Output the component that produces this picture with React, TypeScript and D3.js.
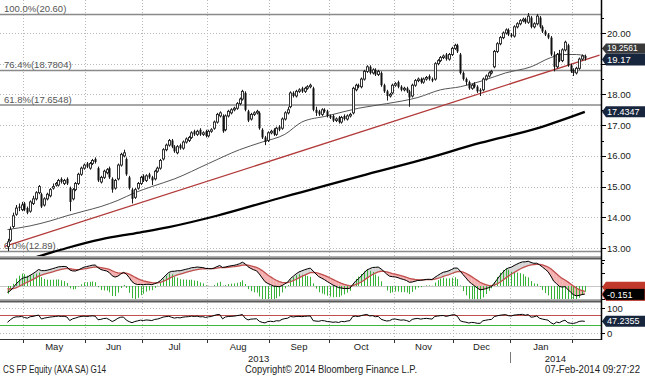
import React from "react";
import * as d3 from "d3";

// ---------- data ----------
const START_DATE = "2013-04-23";
const END_DATE = "2014-02-07";
const HOLIDAYS = ["2013-05-01", "2013-12-25", "2013-12-26", "2014-01-01"];

const OPEN = [
  13.05, 13.25, 13.7, 14.1, 14.35, 14.25, 14.45, 14.3, 14.2, 14.45,
  14.6, 14.8, 14.75, 14.4, 14.6, 14.7, 14.95, 15.05, 15.05, 15.25,
  15.1, 15.25, 14.95, 14.6, 14.9, 15.1, 15.4, 15.6, 15.75, 15.6,
  15.75, 15.9, 15.6, 15.15, 15.3, 15.45, 15.6, 15.25, 14.95, 15.25,
  15.7, 16.0, 15.9, 15.3, 14.9, 14.65, 14.95, 15.1, 15.35, 15.2,
  15.4, 15.3, 15.25, 15.5, 15.6, 15.9, 16.2, 16.35, 16.5, 16.3,
  16.1, 16.35, 16.25, 16.45, 16.5, 16.6, 16.8, 16.7, 16.85, 16.7,
  16.8, 16.65, 16.8, 16.9, 17.1, 17.3, 17.3, 16.85, 17.3, 17.4,
  17.5, 17.55, 17.7, 17.85, 18.05, 17.45, 17.2, 17.35, 17.4, 17.4,
  16.85, 16.6, 16.5, 16.75, 16.85, 16.7, 16.95, 16.9, 17.2, 17.4,
  17.6, 18.05, 17.95, 18.1, 18.2, 18.1, 18.2, 18.25, 18.2, 17.5,
  17.45, 17.35, 17.5, 17.45, 17.3, 17.3, 17.15, 17.25, 17.1, 17.3,
  17.2, 17.3, 17.4, 18.15, 18.3, 18.25, 18.5, 18.75, 18.9, 18.7,
  18.8, 18.65, 18.7, 18.3, 18.1, 17.95, 18.05, 18.3, 18.4, 18.25,
  18.15, 18.2, 18.1, 17.95, 18.3, 18.45, 18.5, 18.4, 18.5, 18.6,
  18.5, 18.5, 19.0, 19.1, 19.2, 19.3, 19.15, 19.3, 19.5, 19.6,
  19.3, 18.7, 18.5, 18.4, 18.2, 18.35, 18.25, 18.15, 18.15, 18.5,
  18.6, 18.7, 18.9, 19.4, 19.65, 19.85, 20.0, 20.1, 19.95, 19.9,
  20.2, 20.3, 20.4, 20.45, 20.35, 20.5, 20.2, 20.3, 20.5, 20.2,
  20.05, 19.95, 19.85, 19.3, 18.9, 19.35, 19.1, 19.45, 19.6, 18.95,
  18.8, 18.7, 18.85, 19.15, 19.25,
];
const HIGH = [
  13.3, 13.7, 14.15, 14.4, 14.45, 14.5, 14.5, 14.35, 14.55, 14.7,
  14.85, 15.05, 14.8, 14.65, 14.8, 14.95, 15.1, 15.15, 15.25, 15.3,
  15.25, 15.3, 15.0, 14.95, 15.15, 15.45, 15.65, 15.75, 15.8, 15.8,
  15.9, 15.95, 15.65, 15.35, 15.55, 15.6, 15.65, 15.3, 15.25, 15.75,
  16.1, 16.2, 15.95, 15.35, 14.95, 14.95, 15.15, 15.35, 15.4, 15.4,
  15.45, 15.35, 15.55, 15.65, 15.9, 16.25, 16.4, 16.55, 16.55, 16.35,
  16.35, 16.4, 16.5, 16.6, 16.65, 16.8, 16.85, 16.85, 16.9, 16.8,
  16.85, 16.85, 16.9, 17.15, 17.4, 17.45, 17.35, 17.35, 17.5, 17.55,
  17.6, 17.75, 17.9, 18.15, 18.1, 17.5, 17.4, 17.45, 17.5, 17.45,
  16.9, 16.65, 16.8, 16.85, 16.9, 16.95, 17.0, 17.25, 17.45, 17.6,
  18.1, 18.1, 18.15, 18.2, 18.25, 18.25, 18.3, 18.35, 18.25, 17.6,
  17.5, 17.55, 17.55, 17.5, 17.35, 17.35, 17.25, 17.3, 17.3, 17.35,
  17.35, 17.4, 18.25, 18.35, 18.35, 18.55, 18.8, 18.95, 18.95, 18.85,
  18.85, 18.8, 18.75, 18.35, 18.15, 18.05, 18.35, 18.4, 18.45, 18.3,
  18.25, 18.25, 18.15, 18.35, 18.5, 18.55, 18.55, 18.55, 18.6, 18.65,
  18.55, 19.05, 19.15, 19.25, 19.3, 19.35, 19.35, 19.55, 19.65, 19.65,
  19.35, 18.75, 18.55, 18.45, 18.35, 18.4, 18.3, 18.2, 18.55, 18.65,
  18.75, 18.8, 19.45, 19.7, 19.9, 20.05, 20.15, 20.15, 20.0, 20.25,
  20.35, 20.45, 20.5, 20.5, 20.65, 20.55, 20.35, 20.62, 20.55, 20.25,
  20.1, 20.0, 19.9, 19.4, 19.35, 19.45, 19.5, 19.75, 19.65, 19.0,
  18.85, 18.9, 19.2, 19.3, 19.3,
];
const LOW = [
  12.9, 13.2, 13.65, 14.05, 14.2, 14.2, 14.2, 14.1, 14.15, 14.4,
  14.55, 14.75, 14.3, 14.35, 14.55, 14.65, 14.9, 15.0, 15.0, 15.1,
  15.05, 15.05, 14.2, 14.55, 14.85, 15.05, 15.35, 15.55, 15.6, 15.55,
  15.7, 15.75, 15.15, 15.1, 15.25, 15.4, 15.25, 14.8, 14.9, 15.2,
  15.65, 15.95, 15.35, 14.9, 14.45, 14.6, 14.9, 15.05, 15.15, 15.15,
  15.25, 15.05, 15.2, 15.45, 15.55, 15.85, 16.15, 16.3, 16.25, 16.1,
  16.05, 16.2, 16.2, 16.4, 16.45, 16.55, 16.65, 16.65, 16.65, 16.65,
  16.6, 16.6, 16.75, 16.85, 17.05, 17.25, 16.75, 16.8, 17.25, 17.35,
  17.45, 17.5, 17.65, 17.8, 17.45, 17.1, 17.15, 17.3, 17.35, 16.85,
  16.55, 16.35, 16.45, 16.7, 16.65, 16.65, 16.8, 16.85, 17.15, 17.35,
  17.55, 17.9, 17.9, 18.05, 18.05, 18.05, 18.15, 18.2, 17.45, 17.3,
  17.3, 17.3, 17.4, 17.25, 17.2, 17.1, 17.1, 17.05, 17.05, 17.15,
  17.15, 17.25, 17.35, 18.1, 18.2, 18.2, 18.45, 18.7, 18.65, 18.65,
  18.6, 18.6, 18.25, 18.05, 17.8, 17.9, 18.0, 18.25, 18.2, 18.1,
  18.1, 18.05, 17.6, 17.9, 18.25, 18.4, 18.35, 18.35, 18.45, 18.45,
  18.4, 18.45, 18.95, 19.05, 19.15, 19.1, 19.1, 19.25, 19.45, 19.35,
  18.65, 18.45, 18.3, 18.15, 18.15, 18.2, 18.05, 17.95, 18.1, 18.45,
  18.55, 18.65, 18.85, 19.35, 19.6, 19.8, 19.95, 19.9, 19.85, 19.85,
  20.15, 20.25, 20.35, 20.3, 20.3, 20.15, 20.15, 20.25, 20.15, 20.0,
  19.9, 19.8, 19.25, 18.75, 18.85, 19.05, 19.05, 19.4, 18.9, 18.7,
  18.6, 18.65, 18.8, 19.1, 19.1,
];
const CLOSE = [
  13.2, 13.6, 14.05, 14.3, 14.3, 14.4, 14.25, 14.15, 14.5, 14.6,
  14.8, 15.0, 14.35, 14.6, 14.75, 14.9, 15.0, 15.1, 15.2, 15.15,
  15.2, 15.1, 14.5, 14.9, 15.1, 15.4, 15.6, 15.7, 15.65, 15.75,
  15.85, 15.8, 15.2, 15.3, 15.5, 15.55, 15.3, 14.9, 15.2, 15.7,
  16.05, 16.1, 15.4, 14.95, 14.6, 14.9, 15.1, 15.3, 15.2, 15.35,
  15.3, 15.2, 15.5, 15.6, 15.85, 16.2, 16.35, 16.5, 16.3, 16.15,
  16.3, 16.25, 16.45, 16.55, 16.6, 16.75, 16.7, 16.8, 16.7, 16.75,
  16.65, 16.8, 16.85, 17.1, 17.35, 17.4, 16.8, 17.3, 17.45, 17.5,
  17.55, 17.7, 17.85, 18.1, 17.5, 17.15, 17.35, 17.4, 17.45, 16.9,
  16.6, 16.45, 16.75, 16.8, 16.7, 16.9, 16.85, 17.2, 17.4, 17.5,
  18.05, 17.95, 18.1, 18.15, 18.1, 18.2, 18.25, 18.3, 17.5, 17.4,
  17.35, 17.5, 17.45, 17.3, 17.25, 17.15, 17.2, 17.1, 17.25, 17.2,
  17.3, 17.35, 18.2, 18.3, 18.25, 18.5, 18.75, 18.9, 18.7, 18.8,
  18.65, 18.75, 18.3, 18.1, 17.95, 18.0, 18.3, 18.35, 18.25, 18.15,
  18.2, 18.1, 17.9, 18.3, 18.45, 18.5, 18.4, 18.5, 18.55, 18.5,
  18.45, 19.0, 19.1, 19.2, 19.25, 19.15, 19.3, 19.5, 19.6, 19.4,
  18.7, 18.5, 18.4, 18.2, 18.3, 18.25, 18.1, 18.1, 18.5, 18.6,
  18.7, 18.75, 19.4, 19.65, 19.85, 20.0, 20.1, 19.95, 19.9, 20.2,
  20.3, 20.4, 20.45, 20.35, 20.55, 20.2, 20.3, 20.55, 20.2, 20.05,
  19.95, 19.85, 19.3, 18.9, 19.3, 19.1, 19.45, 19.7, 18.95, 18.75,
  18.7, 18.85, 19.15, 19.25, 19.17,
];

// moving averages: [trading-day index, value]
const MA50 = [
  [0, 13.6], [8, 13.72], [15, 13.88], [21, 14.05], [27, 14.2], [33, 14.35],
  [39, 14.55], [45, 14.8], [51, 15.0], [59, 15.25], [71, 15.75], [82, 16.2],
  [90, 16.45], [98, 16.7], [104, 17.1], [113, 17.3], [124, 17.55], [134, 17.7],
  [145, 17.9], [153, 18.15], [160, 18.25], [168, 18.45], [176, 18.7], [185, 18.9],
  [192, 19.2], [196, 19.3], [201, 19.3], [204, 19.26],
];
const MA200 = [
  [0, 12.45], [10, 12.7], [21, 13.0], [33, 13.28], [45, 13.48], [57, 13.68],
  [74, 14.05], [96, 14.62], [104, 14.82], [125, 15.35], [146, 15.86],
  [167, 16.42], [188, 16.92], [204, 17.43],
];
const TREND = [[-1, 13.05], [209.2, 19.28]];

const FIB_LEVELS = [20.6, 18.7804, 17.6548, 12.89];
const FIB_LABELS = ["100.0%(20.60)", "76.4%(18.7804)", "61.8%(17.6548)", "0.0%(12.89)"];

const PRICE_TICKS = [13, 14, 15, 16, 17, 18, 19, 20];
const PRICE_MINOR = [12.5, 13.5, 14.5, 15.5, 16.5, 17.5, 18.5, 19.5, 20.5];
const MACD_TICKS = [-0.25, 0, 0.25, 0.5];
const RSI_TICKS = [0, 50, 100];
const RSI_LABELS = [0, 100];
const RSI_OVERBOUGHT = 70;
const RSI_OVERSOLD = 30;

// indicator seeds (state before first visible day)
const SEED_EMA12 = 13.35;
const SEED_EMA26 = 13.47;
const SEED_SIGNAL = -0.03;
const SEED_PREV_CLOSE = 13.1;
const SEED_AVG_GAIN = 0.06;
const SEED_AVG_LOSS = 0.09;

const LAST_PRICE = "19.17";
const MA50_LAST = "19.2561";
const MA200_LAST = "17.4347";
const MACD_LAST = "-0.151";
const RSI_LAST = "47.2355";
const LAST_PRICE_V = 19.17;
const MA200_LAST_V = 17.4347;
const MACD_LAST_V = -0.151;
const RSI_LAST_V = 47.2355;

const FOOTER_LEFT = "CS FP Equity (AXA SA) G14";
const FOOTER_MID = "Copyright\u00a9 2014 Bloomberg Finance L.P.";
const FOOTER_RIGHT = "07-Feb-2014 09:27:22";

// ---------- layout ----------
const W = 645;
const H = 376;
const AX = 601;
const FONT = "'Liberation Sans', Arial, sans-serif";

export default function App() {
  const hol = new Set(HOLIDAYS);
  const fmt = d3.utcFormat("%Y-%m-%d");
  const start = new Date(START_DATE + "T00:00:00Z");
  const end = d3.utcDay.offset(new Date(END_DATE + "T00:00:00Z"), 1);
  const dates = d3
    .utcDays(start, end)
    .filter((d) => d.getUTCDay() % 6 !== 0 && !hol.has(fmt(d)))
    .slice(0, CLOSE.length);
  const N = CLOSE.length;

  const x = d3.scaleLinear().domain([0, N - 1]).range([7.5, 584.8]);
  const yP = d3.scaleLinear().domain([13, 20]).range([248, 33]);
  const yM = d3.scaleLinear().domain([0, 0.5]).range([286, 260]);
  const yH = d3.scaleLinear().domain([0, 0.25]).range([286, 260]);
  const yR = d3.scaleLinear().domain([0, 100]).range([333, 308]);

  // month boundaries
  const monthStarts: number[] = [];
  const monthNames: string[] = [];
  dates.forEach((d, i) => {
    if (i > 0 && d.getUTCMonth() !== dates[i - 1].getUTCMonth()) {
      monthStarts.push(i);
      monthNames.push(d3.utcFormat("%b")(d));
    }
  });
  const bx = (i: number) => x(i - 0.5);
  const monthLabels = monthStarts.slice(0, -1).map((s, k) => ({
    name: monthNames[k],
    cx: (bx(s) + bx(monthStarts[k + 1])) / 2,
  }));
  const yearIdx = monthStarts.find((s) => dates[s].getUTCFullYear() === 2014)!;
  const yearX = bx(yearIdx);
  const years = [
    { label: String(dates[0].getUTCFullYear()), cx: (x(0) + yearX) / 2 },
    { label: String(dates[N - 1].getUTCFullYear()), cx: (yearX + AX) / 2 },
  ];

  // MACD
  const ema = (arr: number[], n: number, seed: number) => {
    const k = 2 / (n + 1);
    let e = seed;
    return arr.map((v) => (e = e + k * (v - e)));
  };
  const e12 = ema(CLOSE, 12, SEED_EMA12);
  const e26 = ema(CLOSE, 26, SEED_EMA26);
  const macd = e12.map((v, i) => v - e26[i]);
  const sig = ema(macd, 9, SEED_SIGNAL);
  const hist = macd.map((v, i) => v - sig[i]);

  // RSI (Wilder 14)
  let ag = SEED_AVG_GAIN;
  let al = SEED_AVG_LOSS;
  let prev = SEED_PREV_CLOSE;
  const rsi = CLOSE.map((c) => {
    const ch = c - prev;
    prev = c;
    ag = (ag * 13 + Math.max(ch, 0)) / 14;
    al = (al * 13 + Math.max(-ch, 0)) / 14;
    return 100 - 100 / (1 + ag / al);
  });

  const maLine = d3
    .line<number[]>()
    .x((d) => x(d[0]))
    .y((d) => yP(d[1]))
    .curve(d3.curveMonotoneX);
  const idxLine = (arr: number[], ys: d3.ScaleLinear<number, number>) =>
    d3
      .line<number>()
      .x((_, i) => x(i))
      .y((d) => ys(d))(arr) || "";

  // MACD fill segments
  const GRAY = "#d6d6d6";
  const PINK = "#f4b0b0";
  const fills: { d: string; c: string }[] = [];
  for (let i = 0; i < N - 1; i++) {
    const a = macd[i] - sig[i];
    const b = macd[i + 1] - sig[i + 1];
    const x0 = x(i);
    const x1 = x(i + 1);
    if (a * b >= 0) {
      fills.push({
        d: `M${x0},${yM(macd[i])}L${x1},${yM(macd[i + 1])}L${x1},${yM(sig[i + 1])}L${x0},${yM(sig[i])}Z`,
        c: a + b > 0 ? GRAY : PINK,
      });
    } else {
      const t = a / (a - b);
      const xc = x0 + t * (x1 - x0);
      const yc = yM(macd[i] + t * (macd[i + 1] - macd[i]));
      fills.push({
        d: `M${x0},${yM(macd[i])}L${xc},${yc}L${x0},${yM(sig[i])}Z`,
        c: a > 0 ? GRAY : PINK,
      });
      fills.push({
        d: `M${xc},${yc}L${x1},${yM(macd[i + 1])}L${x1},${yM(sig[i + 1])}Z`,
        c: b > 0 ? GRAY : PINK,
      });
    }
  }

  const labelBox = (yc: number, h: number, fill: string, stroke?: string) => {
    const y0 = yc - h / 2;
    const y1 = yc + h / 2;
    return (
      <path
        d={`M${AX + 1},${yc}L${AX + 5},${y0}L${W},${y0}L${W},${y1}L${AX + 5},${y1}Z`}
        fill={fill}
        stroke={stroke || "none"}
        strokeWidth={stroke ? 1 : 0}
      />
    );
  };

  // price tick labels that would sit under the value boxes are hidden, as in the reference
  const boxCenters = [yP(LAST_PRICE_V) - 10, yP(LAST_PRICE_V) + 1, yP(MA200_LAST_V)];
  const labelVisible = (t: number) => boxCenters.every((c) => Math.abs(yP(t) - c) > 10);

  const gridV = monthStarts.map((s) => Math.round(bx(s)) + 0.5);

  return (
    <svg
      width={W}
      height={H}
      style={{ position: "absolute", left: 0, top: 0, background: "#fff" }}
      fontFamily={FONT}
    >
      <defs>
        <clipPath id="mainClip">
          <rect x={0} y={0} width={AX} height={256} />
        </clipPath>
        <clipPath id="macdClip">
          <rect x={0} y={260} width={AX} height={39} />
        </clipPath>
      </defs>
      <rect x={0} y={0} width={W} height={H} fill="#fff" />

      {/* grid */}
      {gridV.map((gx, k) => (
        <line key={"gv" + k} x1={gx} x2={gx} y1={0} y2={339} stroke="#b8b8b8" strokeDasharray="1,2" />
      ))}
      {PRICE_TICKS.map((t) => (
        <line key={"gh" + t} x1={0} x2={AX} y1={Math.round(yP(t)) + 0.5} y2={Math.round(yP(t)) + 0.5} stroke="#b8b8b8" strokeDasharray="1,2" />
      ))}
      {[0, 100].map((t) => (
        <line key={"gr" + t} x1={0} x2={AX} y1={Math.round(yR(t)) + 0.5} y2={Math.round(yR(t)) + 0.5} stroke="#b8b8b8" strokeDasharray="1,2" />
      ))}

      {/* fibonacci */}
      {FIB_LEVELS.map((v, k) => (
        <g key={"fib" + k}>
          <line x1={0} x2={AX} y1={yP(v)} y2={yP(v)} stroke="#8a8a8a" strokeWidth={1.5} />
          <text x={4} y={yP(v) - 2.5} fontSize={9.5} fill="#555">
            {FIB_LABELS[k]}
          </text>
        </g>
      ))}

      {/* main panel */}
      <g clipPath="url(#mainClip)">
        <path d={maLine(MA200 as number[][]) || ""} fill="none" stroke="#000" strokeWidth={2.3} />
        <path
          d={`M${x(TREND[0][0])},${yP(TREND[0][1])}L${x(TREND[1][0])},${yP(TREND[1][1])}`}
          stroke="#b23a3a"
          strokeWidth={1.3}
          fill="none"
        />
        <path d={maLine(MA50 as number[][]) || ""} fill="none" stroke="#555" strokeWidth={1} />
        {CLOSE.map((c, i) => {
          const r = Math.round(x(i));
          const o = OPEN[i];
          const up = c >= o;
          const top = yP(Math.max(o, c));
          const bot = yP(Math.min(o, c));
          const hgt = Math.max(1, bot - top);
          return (
            <g key={"c" + i}>
              <line x1={r + 0.5} x2={r + 0.5} y1={yP(HIGH[i])} y2={yP(LOW[i])} stroke="#1a1a1a" strokeWidth={1} />
              {up ? (
                <rect x={r - 0.5} y={top} width={2} height={hgt} fill="#fff" stroke="#222" strokeWidth={0.9} />
              ) : (
                <rect x={r - 0.5} y={top} width={2} height={hgt} fill="#111" />
              )}
            </g>
          );
        })}
      </g>

      {/* separators */}
      <rect x={0} y={256} width={AX} height={1.5} fill="#b0b0b0" />
      <rect x={0} y={257.5} width={AX + 1} height={2} fill="#5a5a5a" />
      <rect x={0} y={299} width={AX} height={1.5} fill="#b0b0b0" />
      <rect x={0} y={300.5} width={AX + 1} height={2} fill="#5a5a5a" />

      {/* MACD panel */}
      <g clipPath="url(#macdClip)">
        {fills.map((f, k) => (
          <path key={"f" + k} d={f.d} fill={f.c} stroke={f.c} strokeWidth={0.3} />
        ))}
        <line x1={0} x2={AX} y1={Math.round(yM(0)) + 0.5} y2={Math.round(yM(0)) + 0.5} stroke="#c8c8c8" />
        {hist.map((h, i) => {
          const r = Math.round(x(i)) + 0.5;
          return <line key={"h" + i} x1={r} x2={r} y1={yH(0)} y2={yH(h)} stroke="#36b336" strokeWidth={1} />;
        })}
        <path d={idxLine(sig, yM)} fill="none" stroke="#c0504d" strokeWidth={1.3} />
        <path d={idxLine(macd, yM)} fill="none" stroke="#000" strokeWidth={1} />
      </g>

      {/* RSI panel */}
      <line x1={0} x2={AX} y1={yR(RSI_OVERBOUGHT)} y2={yR(RSI_OVERBOUGHT)} stroke="#c0504d" strokeWidth={1.2} />
      <line x1={0} x2={AX} y1={yR(RSI_OVERSOLD)} y2={yR(RSI_OVERSOLD)} stroke="#3cb93c" strokeWidth={1.2} />
      <path d={idxLine(rsi, yR)} fill="none" stroke="#000" strokeWidth={1} />

      {/* x axis */}
      <line x1={0} x2={AX} y1={339.5} y2={339.5} stroke="#333" strokeWidth={1} />
      {gridV.map((gx, k) => (
        <line key={"xt" + k} x1={gx} x2={gx} y1={339} y2={343} stroke="#333" />
      ))}
      {monthLabels.map((m, k) => (
        <text key={"ml" + k} x={m.cx} y={350} fontSize={9.5} textAnchor="middle" fill="#222">
          {m.name}
        </text>
      ))}
      <line x1={Math.round(yearX) + 0.5} x2={Math.round(yearX) + 0.5} y1={352} y2={363} stroke="#777" />
      {years.map((yv, k) => (
        <text key={"yr" + k} x={yv.cx} y={362} fontSize={9.5} textAnchor="middle" fill="#222">
          {yv.label}
        </text>
      ))}

      {/* right axis */}
      <line x1={AX + 0.5} x2={AX + 0.5} y1={0} y2={340} stroke="#000" strokeWidth={1.5} />
      {PRICE_TICKS.map((t) => (
        <g key={"pt" + t}>
          <line x1={AX} x2={AX + 5} y1={Math.round(yP(t)) + 0.5} y2={Math.round(yP(t)) + 0.5} stroke="#000" />
          {labelVisible(t) && (
            <text x={AX + 6} y={yP(t) + 3.5} fontSize={9.5} fill="#1a1a1a">
              {d3.format(".2f")(t)}
            </text>
          )}
        </g>
      ))}
      {PRICE_MINOR.map((t) => (
        <line key={"pm" + t} x1={AX} x2={AX + 3} y1={Math.round(yP(t)) + 0.5} y2={Math.round(yP(t)) + 0.5} stroke="#000" />
      ))}
      {MACD_TICKS.map((t) => (
        <line key={"mt" + t} x1={AX} x2={AX + 4} y1={Math.round(yM(t)) + 0.5} y2={Math.round(yM(t)) + 0.5} stroke="#000" />
      ))}
      {RSI_TICKS.map((t) => (
        <line key={"rt" + t} x1={AX} x2={AX + 4} y1={Math.round(yR(t)) + 0.5} y2={Math.round(yR(t)) + 0.5} stroke="#000" />
      ))}
      {RSI_LABELS.map((t) => (
        <text key={"rl" + t} x={AX + 6} y={yR(t) + 3.5} fontSize={9.5} fill="#1a1a1a">
          {t}
        </text>
      ))}

      {/* value labels */}
      {labelBox(yP(LAST_PRICE_V) - 10, 10, "#3a3a3a")}
      <text x={AX + 6} y={yP(LAST_PRICE_V) - 7} fontSize={8.5} fill="#fff">
        {MA50_LAST}
      </text>
      {labelBox(yP(LAST_PRICE_V) + 1, 12, "#17253d")}
      <text x={AX + 6} y={yP(LAST_PRICE_V) + 4.5} fontSize={9.5} fill="#fff">
        {LAST_PRICE}
      </text>
      {labelBox(yP(MA200_LAST_V), 11, "#17253d")}
      <text x={AX + 6} y={yP(MA200_LAST_V) + 3.3} fontSize={9} fill="#fff">
        {MA200_LAST}
      </text>
      {labelBox(yM(MACD_LAST_V) - 6.5, 11, "#c0392b")}
      {labelBox(yM(MACD_LAST_V) + 0.5, 12, "#000", "#c0392b")}
      <text x={AX + 6} y={yM(MACD_LAST_V) + 4} fontSize={9} fill="#fff">
        {MACD_LAST}
      </text>
      {labelBox(yR(RSI_LAST_V), 11, "#17253d")}
      <text x={AX + 6} y={yR(RSI_LAST_V) + 3.3} fontSize={9} fill="#fff">
        {RSI_LAST}
      </text>

      {/* footer */}
      <text x={3} y={373} fontSize={10} fill="#222" textLength={103} lengthAdjust="spacingAndGlyphs">
        {FOOTER_LEFT}
      </text>
      <text x={245} y={373} fontSize={10} fill="#222" textLength={172} lengthAdjust="spacingAndGlyphs">
        {FOOTER_MID}
      </text>
      <text x={545} y={373} fontSize={10} fill="#222" textLength={95} lengthAdjust="spacingAndGlyphs">
        {FOOTER_RIGHT}
      </text>
    </svg>
  );
}
